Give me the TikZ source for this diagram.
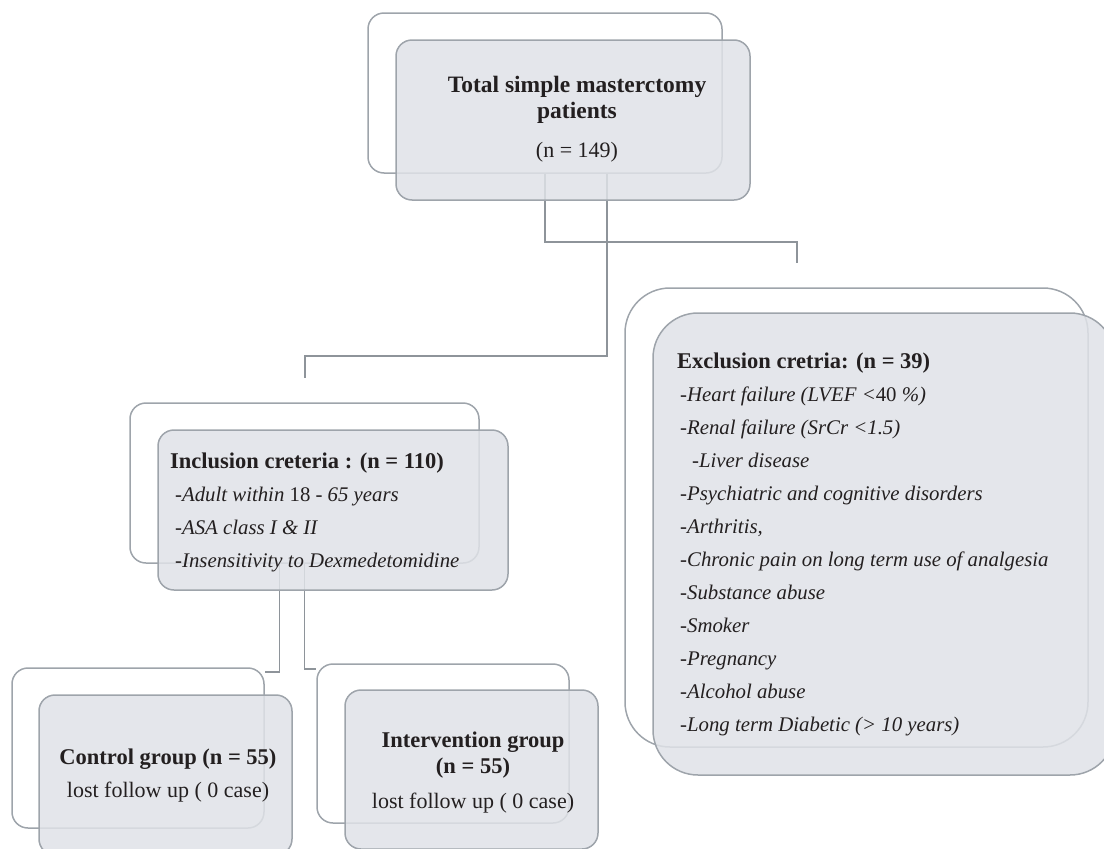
\documentclass[tikz,border=0pt]{standalone}
\usepackage{fontspec}
\setmainfont{Liberation Serif}
\definecolor{boxfill}{HTML}{DFE2E7}
\definecolor{edgegray}{HTML}{9EA4AB}
\definecolor{linegray}{HTML}{8E949A}
\definecolor{textcol}{HTML}{231F20}
\begin{document}
\begin{tikzpicture}[x=1pt,y=-1pt]
\tikzset{
 backbox/.style={draw=edgegray, line width=1.5pt, rounded corners=16pt, inner sep=0pt},
 frontbox/.style={draw=edgegray, line width=1.5pt, rounded corners=16pt, fill=boxfill, fill opacity=0.85, inner sep=0pt},
 bigback/.style={backbox, rounded corners=45pt},
 bigfront/.style={frontbox, rounded corners=45pt},
 conn/.style={draw=linegray, line width=1.6pt},
 txt/.style={inner sep=0pt, text=textcol, font=\fontsize{20.8}{33}\selectfont},
 plaintxt/.style={txt, font=\fontsize{22}{26}\selectfont},
 boldtxt/.style={txt, font=\fontsize{22.5}{26}\selectfont\bfseries}
}
\useasboundingbox (0,0) rectangle (1104,849);

% back boxes
\node[backbox, minimum width=354pt, minimum height=160pt] (topback) at (545,93) {};
\node[backbox, minimum width=349pt, minimum height=160pt] (inclback) at (304.5,483) {};
\node[bigback, minimum width=463pt, minimum height=459pt] (exclback) at (856.5,517.5) {};
\node[backbox, minimum width=252pt, minimum height=160pt] (ctrlback) at (138,748) {};
\node[backbox, minimum width=252pt, minimum height=159pt] (intback) at (443,743.5) {};

% connectors
\coordinate (aEnd) at (797,263);
\coordinate (bEnd) at (305,378);
\draw[conn] (topback.south) -- ++(0,68) -| (aEnd);
\draw[conn] ([xshift=62pt]topback.south) -- ++(0,182) -| (bEnd);
\draw[conn] ([xshift=-25pt]inclback.south) |- ([yshift=76pt]ctrlback.east);
\draw[conn] (inclback.south) |- ([yshift=74.5pt]intback.west);

% front boxes
\node[frontbox, minimum width=354pt, minimum height=160pt] (topfront) at (573,120) {};
\node[frontbox, minimum width=350pt, minimum height=160pt] (inclfront) at (333,510) {};
\node[bigfront, minimum width=462pt, minimum height=462pt] (exclfront) at (884,544) {};
\node[frontbox, minimum width=253pt, minimum height=160pt] (ctrlfront) at (165.5,775) {};
\node[frontbox, minimum width=253pt, minimum height=159pt] (intfront) at (471.5,769.5) {};

% texts
\node[boldtxt, align=center, font=\fontsize{23.5}{26}\selectfont\bfseries] (toptitle) at (577,100) {Total simple masterctomy\\patients};
\node[plaintxt] (topn) at (577,152) {(n = 149)};

\node[txt, align=left, anchor=base west] (incltext) at (170,567) {{\fontsize{22.5}{33}\selectfont\bfseries Inclusion creteria : (n = 110)}\\
\hspace*{5pt}\textit{-Adult within} 18 - \textit{65 years}\\
\hspace*{5pt}\textit{-ASA class I \& II}\\
\hspace*{5pt}\textit{-Insensitivity to Dexmedetomidine}};

\node[txt, align=left, anchor=base west] (excltext) at (677,731) {{\fontsize{22.5}{33}\selectfont\bfseries Exclusion cretria: (n = 39)}\\
\hspace*{3pt}\textit{-Heart failure (LVEF <}40 \textit{\%)}\\
\hspace*{3pt}\textit{-Renal failure (SrCr <1.5)}\\
\hspace*{15pt}\textit{-Liver disease}\\
\hspace*{3pt}\textit{-Psychiatric and cognitive disorders}\\
\hspace*{3pt}\textit{-Arthritis,}\\
\hspace*{3pt}\textit{-Chronic pain on long term use of analgesia}\\
\hspace*{3pt}\textit{-Substance abuse}\\
\hspace*{3pt}\textit{-Smoker}\\
\hspace*{3pt}\textit{-Pregnancy}\\
\hspace*{3pt}\textit{-Alcohol abuse}\\
\hspace*{3pt}\textit{-Long term Diabetic (> 10 years)}};

\node[boldtxt] (ctrltitle) at (168,759) {Control group (n = 55)};
\node[plaintxt] (ctrlloss) at (168,792) {lost follow up ( 0 case)};

\node[boldtxt, align=center] (inttitle) at (473,755.5) {Intervention group\\(n = 55)};
\node[plaintxt] (intloss) at (473,803) {lost follow up ( 0 case)};
\end{tikzpicture}
\end{document}
